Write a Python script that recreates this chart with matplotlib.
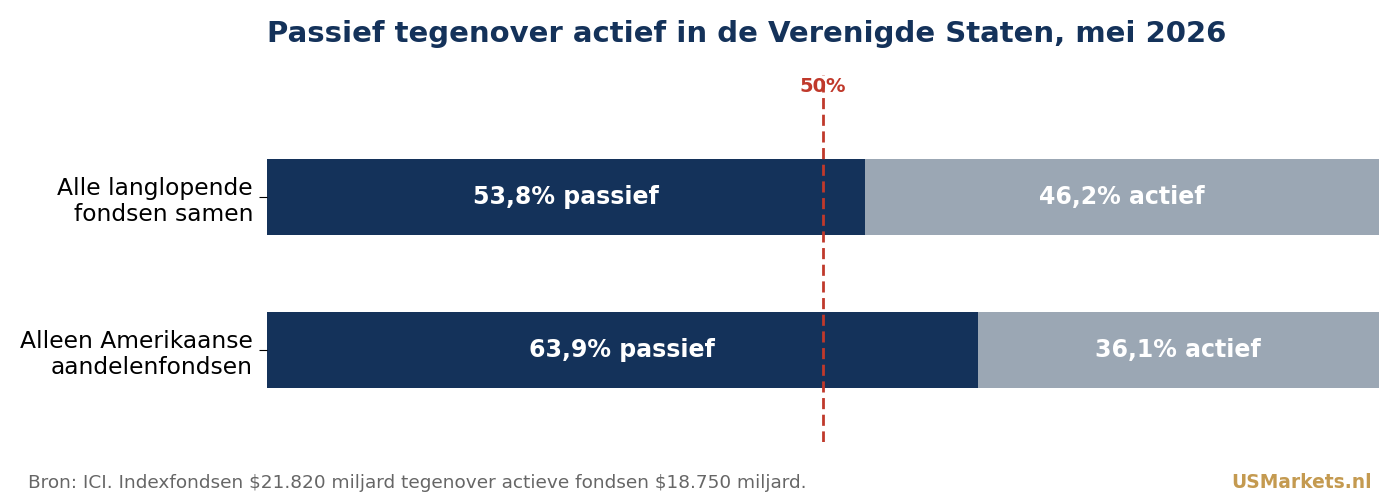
import matplotlib.pyplot as plt

categories = ['Alle langlopende\nfondsen samen', 'Alleen Amerikaanse\naandelenfondsen']
passief = [53.8, 63.9]
actief = [46.2, 36.1]
passief_labels = ['53,8% passief', '63,9% passief']
actief_labels = ['46,2% actief', '36,1% actief']

navy = '#14325a'
grijs = '#9ba7b4'
rood = '#c0392b'

fig = plt.figure(figsize=(14, 5.04), dpi=100)
ax = fig.add_axes([267 / 1400, 1 - 441.8 / 504, 1112 / 1400, 367.2 / 504])

y = range(len(categories))
ax.barh(y, passief, height=0.5, color=navy)
ax.barh(y, actief, left=passief, height=0.5, color=grijs)

for i in y:
    ax.text(passief[i] / 2, i, passief_labels[i], ha='center', va='center',
            color='white', fontsize=17, fontweight='bold')
    ax.text(passief[i] + actief[i] / 2, i, actief_labels[i], ha='center', va='center',
            color='white', fontsize=17, fontweight='bold')

# 50% referentielijn
ax.axvline(50, color=rood, linestyle=(0, (4, 2)), linewidth=2, zorder=5)
ax.text(50, -0.72, '50%', ha='center', va='center', color=rood,
        fontsize=14, fontweight='bold')

ax.set_xlim(0, 100)
ax.set_ylim(1.6, -0.8)
ax.set_yticks(list(y))
ax.set_yticklabels(categories, fontsize=16.8)
ax.set_xticks([])
for s in ax.spines.values():
    s.set_visible(False)
ax.tick_params(axis='y', length=6, pad=4)

fig.text(267 / 1400, 1 - 34 / 504, 'Passief tegenover actief in de Verenigde Staten, mei 2026',
         ha='left', va='center', fontsize=21, fontweight='bold', color=navy)
fig.text(28 / 1400, 1 - 483 / 504,
         r'Bron: ICI. Indexfondsen \$21.820 miljard tegenover actieve fondsen \$18.750 miljard.',
         ha='left', va='center', fontsize=13.3, color='#666666')
fig.text(1372 / 1400, 1 - 483 / 504, 'USMarkets.nl', ha='right', va='center',
         fontsize=13.4, fontweight='bold', color='#c49a50')

fig.savefig('out.png', dpi=100)
